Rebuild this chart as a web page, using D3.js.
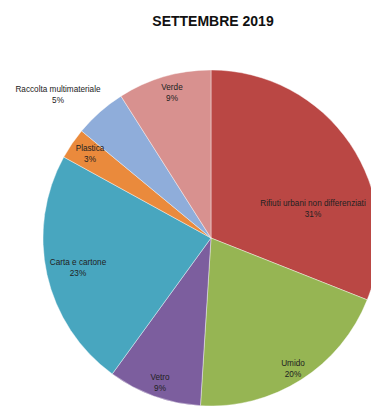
<!DOCTYPE html>
<html>
<head>
<meta charset="utf-8">
<script src="https://cdn.jsdelivr.net/npm/d3@7/dist/d3.min.js"></script>
<style>
  html, body { margin: 0; padding: 0; background: #fff; }
  svg { display: block; }
</style>
</head>
<body>
<svg id="chart" width="371" height="408"></svg>
<script>
// Composizione della raccolta rifiuti, settembre 2019 (percentuali)
const title = "SETTEMBRE 2019";
const categories = [
  "Rifiuti urbani non differenziati",
  "Umido",
  "Vetro",
  "Carta e cartone",
  "Plastica",
  "Raccolta multimateriale",
  "Verde"
];
const percentages = [31, 20, 9, 23, 3, 5, 9];
const colors = ["#BA4744", "#96B553", "#7C5E9E", "#48A6BF", "#EA8A3C", "#8FADDA", "#D8918F"];

// Label anchors, as offsets from the pie centre (px)
const labelOffsets = [
  [102, -30], [82, 130], [-51, 144], [-133, 29], [-121, -85], [-153, -144], [-39, -146]
];

const width = 371, height = 408;
const cx = 211, cy = 238, radius = 168;

const svg = d3.select("#chart");

svg.append("text")
  .attr("x", 213)
  .attr("y", 26)
  .attr("text-anchor", "middle")
  .attr("font-family", "Liberation Sans, Arial, sans-serif")
  .attr("font-weight", "bold")
  .attr("font-size", 14)
  .attr("fill", "#111")
  .text(title);

const data = categories.map((c, i) => ({ name: c, value: percentages[i], color: colors[i], off: labelOffsets[i] }));

const pie = d3.pie().sort(null).value(d => d.value).startAngle(0).endAngle(2 * Math.PI);
const arc = d3.arc().innerRadius(0).outerRadius(radius);

const g = svg.append("g").attr("transform", `translate(${cx},${cy})`);

g.selectAll("path.slice")
  .data(pie(data))
  .join("path")
  .attr("class", "slice")
  .attr("d", arc)
  .attr("fill", d => d.data.color)
  .attr("stroke", "#ffffff")
  .attr("stroke-opacity", 0.5)
  .attr("stroke-width", 0.8);

const labels = g.selectAll("text.lbl")
  .data(pie(data))
  .join("text")
  .attr("class", "lbl")
  .attr("text-anchor", "middle")
  .attr("font-family", "Liberation Sans, Arial, sans-serif")
  .attr("font-size", 8.2)
  .attr("fill", "#222");

labels.append("tspan")
  .attr("x", d => d.data.off[0])
  .attr("y", d => d.data.off[1] - 2)
  .text(d => d.data.name);

labels.append("tspan")
  .attr("x", d => d.data.off[0])
  .attr("y", d => d.data.off[1] + 9)
  .text(d => d.data.value + "%");
</script>
</body>
</html>
